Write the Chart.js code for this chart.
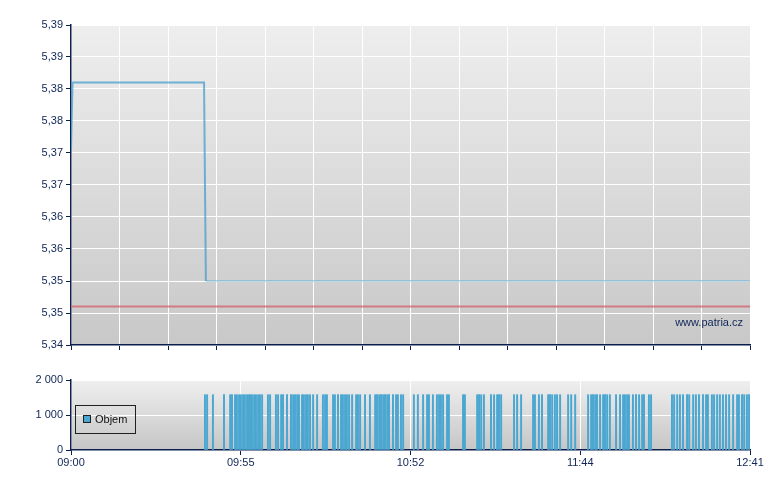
<!DOCTYPE html>
<html>
<head>
<meta charset="utf-8">
<script src="https://cdn.jsdelivr.net/npm/chart.js@4.4.0/dist/chart.umd.min.js"></script>
<style>
  body { margin: 0; background: #fff; }
  #wrap { position: relative; width: 780px; height: 490px; }
  canvas { position: absolute; left: 0; }
  #priceChart { top: 0; }
  #volumeChart { top: 360px; }
</style>
</head>
<body>
<div id="wrap">
  <canvas id="priceChart" width="780" height="360"></canvas>
  <canvas id="volumeChart" width="780" height="130"></canvas>
</div>
<script>
// minutes after 09:00
const priceMinutes = [0, 0.5, 43.3, 43.9, 221];
const priceValues = [5.3705, 5.381, 5.381, 5.35, 5.35];
const prevClose = 5.346;

const yTickValues = [5.34, 5.345, 5.35, 5.355, 5.36, 5.365, 5.37, 5.375, 5.38, 5.385, 5.39];
const yTickLabels = ["5,34", "5,35", "5,35", "5,36", "5,36", "5,37", "5,37", "5,38", "5,38", "5,39", "5,39"];

const xTickMinutes = [0, 55.25, 110.5, 165.75, 221];
const xTickLabels = ["09:00", "09:55", "10:52", "11:44", "12:41"];

const volumeTicks = [0, 1000, 2000];
const volumeTickLabels = ["0", "1 000", "2 000"];

const tradeMinutes = [
    43.6, 44.3, 46.2, 49.8, 51.8, 52.4, 53.4, 54.0, 54.7, 55.3,
    56.0, 56.6, 57.3, 57.9, 58.3, 58.9, 59.6, 60.2, 60.9, 61.5,
    62.2, 64.1, 64.8, 66.7, 67.4, 68.4, 69.0, 70.3, 71.6, 72.3,
    72.9, 73.6, 74.2, 75.2, 75.8, 76.5, 77.1, 77.8, 78.8, 80.1,
    82.0, 82.7, 83.3, 85.3, 85.9, 86.9, 87.9, 88.5, 89.2, 89.8,
    90.5, 91.5, 92.8, 93.4, 94.1, 95.7, 97.3, 99.0, 99.6, 100.3,
    100.9, 101.6, 102.2, 102.9, 103.5, 104.8, 105.8, 106.4, 107.4, 108.1,
    111.6, 112.9, 114.6, 115.9, 116.5, 117.8, 119.1, 119.8, 120.4, 121.1,
    122.4, 123.0, 127.6, 128.2, 132.2, 132.8, 133.5, 134.4, 136.7, 137.7,
    138.7, 139.3, 140.0, 144.2, 145.2, 146.5, 150.4, 151.0, 152.3, 153.3,
    155.3, 155.9, 156.6, 157.5, 158.2, 159.2, 161.8, 162.8, 164.1, 168.3,
    169.3, 169.9, 170.6, 171.2, 172.2, 173.2, 173.8, 174.5, 175.4, 177.4,
    178.7, 179.7, 180.3, 181.0, 181.6, 182.9, 183.9, 184.9, 185.9, 186.5,
    188.1, 188.8, 195.6, 196.3, 197.3, 198.2, 199.2, 200.5, 201.2, 202.5,
    203.4, 204.4, 205.7, 206.7, 207.3, 208.6, 209.3, 210.3, 211.2, 212.2,
    213.2, 214.2, 215.5, 216.8, 217.4, 218.4, 219.1, 220.0, 220.7
];
const tradeVolumes = [
    1580, 1580, 1580, 1580, 1580, 1580, 1580, 1580, 1580, 1580,
    1580, 1580, 1580, 1580, 1580, 1580, 1580, 1580, 1580, 1580,
    1580, 1580, 1580, 1580, 1580, 1580, 1580, 1580, 1580, 1580,
    1580, 1580, 1580, 1580, 1580, 1580, 1580, 1580, 1580, 1580,
    1580, 1580, 1580, 1580, 1580, 1580, 1580, 1580, 1580, 1580,
    1580, 1580, 1580, 1580, 1580, 1580, 1580, 1580, 1580, 1580,
    1580, 1580, 1580, 1580, 1580, 1580, 1580, 1580, 1580, 1580,
    1580, 1580, 1580, 1580, 1580, 1580, 1580, 1580, 1580, 1580,
    1580, 1580, 1580, 1580, 1580, 1580, 1580, 1580, 1580, 1580,
    1580, 1580, 1580, 1580, 1580, 1580, 1580, 1580, 1580, 1580,
    1580, 1580, 1580, 1580, 1580, 1580, 1580, 1580, 1580, 1580,
    1580, 1580, 1580, 1580, 1580, 1580, 1580, 1580, 1580, 1580,
    1580, 1580, 1580, 1580, 1580, 1580, 1580, 1580, 1580, 1580,
    1580, 1580, 1580, 1580, 1580, 1580, 1580, 1580, 1580, 1580,
    1580, 1580, 1580, 1580, 1580, 1580, 1580, 1580, 1580, 1580,
    1580, 1580, 1580, 1580, 1580, 1580, 1580, 1580, 1580
];

const NAVY = "#102656";
const AXIS = "#0b1f4d";
const SESSION_END = 221;

Chart.defaults.font.family = "'Liberation Sans', Arial, sans-serif";
Chart.defaults.font.size = 11;
Chart.defaults.color = NAVY;
Chart.defaults.animation = false;

// gray gradient behind the plot area
const plotBackground = {
    id: "plotBackground",
    beforeDraw(chart, args, opts) {
        const { ctx, chartArea: a } = chart;
        const g = ctx.createLinearGradient(0, a.top, 0, a.bottom);
        g.addColorStop(0, opts.top);
        g.addColorStop(1, opts.bottom);
        ctx.save();
        ctx.fillStyle = g;
        ctx.fillRect(a.left, a.top, a.right - a.left, a.bottom - a.top);
        ctx.restore();
    },
};

const watermark = {
    id: "watermark",
    afterDraw(chart) {
        const { ctx, chartArea: a } = chart;
        ctx.save();
        ctx.font = "11px 'Liberation Sans', Arial, sans-serif";
        ctx.fillStyle = NAVY;
        ctx.textAlign = "right";
        ctx.textBaseline = "middle";
        ctx.fillText("www.patria.cz", a.right - 7, a.bottom - 22);
        ctx.restore();
    },
};

const boxLegend = {
    id: "boxLegend",
    afterDraw(chart) {
        const { ctx, chartArea: a } = chart;
        const ds = chart.data.datasets[0];
        ctx.save();
        ctx.strokeStyle = "#202020";
        ctx.lineWidth = 1;
        ctx.strokeRect(a.left + 4.5, a.top + 25.5, 60, 28);
        ctx.fillStyle = ds.backgroundColor;
        ctx.fillRect(a.left + 12, a.top + 35, 8, 8);
        ctx.strokeRect(a.left + 12.5, a.top + 35.5, 7, 7);
        ctx.font = "11px 'Liberation Sans', Arial, sans-serif";
        ctx.fillStyle = "#111";
        ctx.textBaseline = "middle";
        ctx.fillText(ds.label, a.left + 24, a.top + 40);
        ctx.restore();
    },
};

const gridStep = SESSION_END / 14;
const priceGrid = [];
for (let i = 0; i <= 14; i++) priceGrid.push(i * gridStep);

new Chart(document.getElementById("priceChart"), {
    type: "line",
    data: {
        datasets: [
            {
                label: "Cena",
                data: priceMinutes.map((m, i) => ({ x: m, y: priceValues[i] })),
                borderColor: "rgba(70, 158, 204, 0.75)",
                borderWidth: 1,
                segment: {
                    borderWidth: (ctx) => (ctx.p0DataIndex < 3 ? 2 : 1),
                },
                pointRadius: 0,
                tension: 0,
            },
            {
                label: "Předchozí závěr",
                data: [
                    { x: 0, y: prevClose },
                    { x: SESSION_END, y: prevClose },
                ],
                borderColor: "rgba(214, 96, 106, 0.75)",
                borderWidth: 2,
                pointRadius: 0,
            },
        ],
    },
    options: {
        responsive: false,
        layout: { padding: { top: 25, right: 30, left: 0, bottom: 0 } },
        scales: {
            x: {
                type: "linear",
                min: 0,
                max: SESSION_END,
                afterBuildTicks: (s) => {
                    s.ticks = priceGrid.map((v) => ({ value: v }));
                },
                afterFit: (s) => {
                    s.height = 15;
                },
                ticks: { display: false },
                grid: { color: "#ffffff", lineWidth: 1, tickColor: AXIS, tickLength: 5 },
                border: { color: AXIS, width: 1.5 },
            },
            y: {
                min: 5.34,
                max: 5.39,
                afterBuildTicks: (s) => {
                    s.ticks = yTickValues.map((v) => ({ value: v }));
                },
                afterFit: (s) => {
                    s.width = 71;
                },
                ticks: {
                    autoSkip: false,
                    padding: 3,
                    callback: (v, i) => yTickLabels[i],
                },
                grid: { color: "#ffffff", lineWidth: 1, tickColor: AXIS, tickLength: 5 },
                border: { color: AXIS, width: 1.5 },
            },
        },
        plugins: {
            legend: { display: false },
            tooltip: { enabled: false },
            plotBackground: { top: "#eeeeee", bottom: "#c8c8c8" },
        },
    },
    plugins: [plotBackground, watermark],
});

new Chart(document.getElementById("volumeChart"), {
    type: "bar",
    data: {
        datasets: [
            {
                label: "Objem",
                data: tradeMinutes.map((m, i) => ({ x: m, y: tradeVolumes[i] })),
                backgroundColor: "#4aa7d1",
                barThickness: 1.3,
            },
        ],
    },
    options: {
        responsive: false,
        layout: { padding: { top: 20, right: 30, left: 0, bottom: 0 } },
        scales: {
            x: {
                type: "linear",
                min: 0,
                max: SESSION_END,
                offset: false,
                afterBuildTicks: (s) => {
                    s.ticks = xTickMinutes.map((v) => ({ value: v }));
                },
                afterFit: (s) => {
                    s.height = 40;
                },
                ticks: {
                    autoSkip: false,
                    maxRotation: 0,
                    padding: 1,
                    callback: (v, i) => xTickLabels[i],
                },
                grid: { offset: false, color: "#ffffff", lineWidth: 1, tickColor: AXIS, tickLength: 5 },
                border: { color: AXIS, width: 1.5 },
            },
            y: {
                min: 0,
                max: 2000,
                afterBuildTicks: (s) => {
                    s.ticks = volumeTicks.map((v) => ({ value: v }));
                },
                afterFit: (s) => {
                    s.width = 71;
                },
                ticks: {
                    padding: 3,
                    callback: (v, i) => volumeTickLabels[i],
                },
                grid: { color: "#ffffff", lineWidth: 1, tickColor: AXIS, tickLength: 5 },
                border: { color: AXIS, width: 1.5 },
            },
        },
        plugins: {
            legend: { display: false },
            tooltip: { enabled: false },
            plotBackground: { top: "#efefef", bottom: "#c6c6c6" },
        },
    },
    plugins: [plotBackground, boxLegend],
});
</script>
</body>
</html>
